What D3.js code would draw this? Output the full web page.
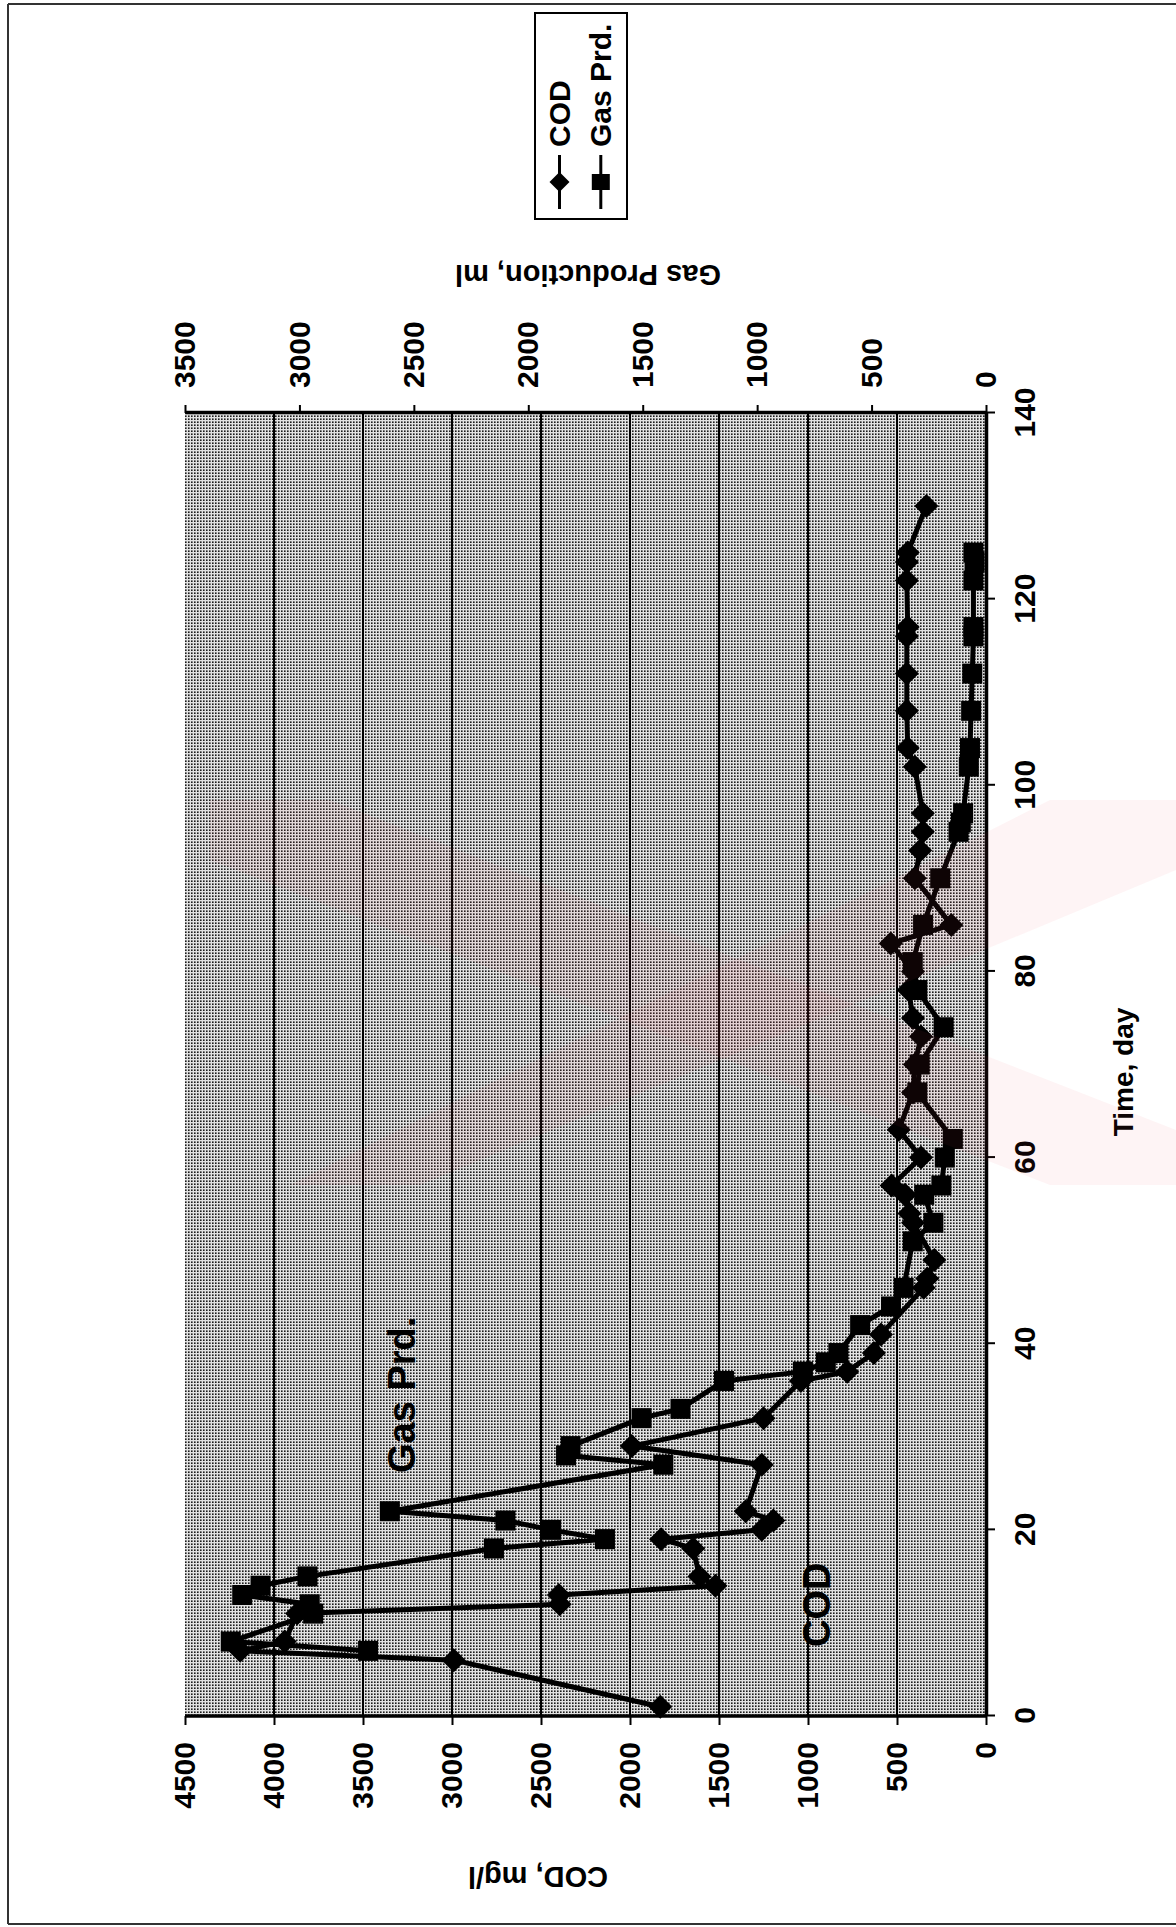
<!DOCTYPE html>
<html><head><meta charset="utf-8">
<script src="https://cdn.jsdelivr.net/npm/d3@7"></script>
<style>html,body{margin:0;padding:0;background:#fff;} svg{display:block;}</style>
</head><body>
<svg id="c" width="1176" height="1927"></svg>
<script>
// ---- data ----
const codDays   = [1,6,7,8,11,12,13,14,15,18,19,20,21,22,27,29,32,36,37,39,41,46,47,49,53,54,56,57,60,63,67,70,73,75,78,80,83,85,90,93,95,97,102,104,108,112,116,117,122,124,125,130];
const codValues = [1830,2990,4190,3940,3870,2395,2400,1520,1610,1645,1825,1260,1195,1350,1260,1990,1250,1040,780,630,590,350,330,290,410,430,455,530,365,490,410,400,365,410,435,410,535,195,400,370,355,355,400,440,445,445,445,440,445,445,440,335];
const gasDays   = [7,8,11,12,13,14,15,18,19,20,21,22,27,28,29,32,33,36,37,38,39,42,44,46,51,53,56,57,60,62,67,70,74,78,81,85,90,95,96,97,102,104,108,112,116,117,122,124,125];
const gasValues = [2700,3300,2940,2955,3250,3170,2965,2150,1665,1900,2100,2605,1410,1835,1815,1505,1335,1145,800,700,645,550,415,360,320,230,270,195,180,145,300,290,185,300,320,275,200,120,110,100,75,70,65,60,55,55,55,50,55];
const timeTicks = [0,20,40,60,80,100,120,140];
const codTicks  = [0,500,1000,1500,2000,2500,3000,3500,4000,4500];
const gasTicks  = [0,500,1000,1500,2000,2500,3000,3500];
const seriesNames = ["COD","Gas Prd."];

const FONT = "'Liberation Sans', Arial, sans-serif";
const W = 1303, H = 801;
const svg = d3.select('#c');

// pattern for halftone background
const defs = svg.append('defs');
const pat = defs.append('pattern').attr('id','dots').attr('patternUnits','userSpaceOnUse')
  .attr('width',3).attr('height',3);
pat.append('rect').attr('width',3).attr('height',3).attr('fill','#e2e2e2');
pat.append('rect').attr('width',1.6).attr('height',1.6).attr('fill','#1c1c1c');

// page frame
svg.append('line').attr('x1',8).attr('x2',8).attr('y1',4).attr('y2',1924).attr('stroke','#333').attr('stroke-width',2);
svg.append('line').attr('x1',8).attr('x2',1176).attr('y1',4).attr('y2',4).attr('stroke','#333').attr('stroke-width',2);
svg.append('line').attr('x1',8).attr('x2',1176).attr('y1',1924).attr('y2',1924).attr('stroke','#333').attr('stroke-width',2);

// chart drawn in normal orientation, then rotated
const g = svg.append('g').attr('transform','translate(185,1716) rotate(-90)');
const x  = d3.scaleLinear().domain([0,140]).range([0,W]);
const yC = d3.scaleLinear().domain([0,4500]).range([H,0]);
const yG = d3.scaleLinear().domain([0,3500]).range([H,0]);

g.append('rect').attr('x',0).attr('y',0).attr('width',W).attr('height',H).attr('fill','url(#dots)');

// faint pink watermark
const wm = svg.append('g').attr('fill','rgba(230,70,80,0.06)');
wm.append('polygon').attr('points','210,800 330,800 1176,1130 1176,1185 1050,1185 210,860');
wm.append('polygon').attr('points','1176,800 1176,870 420,1185 290,1185 1050,800');

// gridlines (COD)
g.append('g').selectAll('line').data(codTicks.filter(v=>v>0 && v<4500)).join('line')
  .attr('x1',0).attr('x2',W).attr('y1',d=>yC(d)).attr('y2',d=>yC(d))
  .attr('stroke','#000').attr('stroke-width',2);

function styleAxis(sel){
  sel.select('.domain').attr('stroke','#000').attr('stroke-width',3.5);
  sel.selectAll('.tick line').attr('stroke','#000').attr('stroke-width',2);
  sel.selectAll('.tick text').attr('fill','#000').style('font-family',FONT)
     .style('font-weight','bold').style('font-size','30px');
}
const axL = g.append('g').call(d3.axisLeft(yC).tickValues(codTicks).tickSize(9).tickSizeOuter(0).tickPadding(17).tickFormat(d3.format('d')));
styleAxis(axL); axL.select('.domain').remove();
const axR = g.append('g').attr('transform',`translate(${W},0)`).call(d3.axisRight(yG).tickValues(gasTicks).tickSize(8).tickSizeOuter(0).tickPadding(17).tickFormat(d3.format('d')));
styleAxis(axR);
const axB = g.append('g').attr('transform',`translate(0,${H})`).call(d3.axisBottom(x).tickValues(timeTicks).tickSize(9).tickSizeOuter(0).tickPadding(19));
styleAxis(axB);
g.append('line').attr('x1',0).attr('x2',0).attr('y1',0).attr('y2',H).attr('stroke','#000').attr('stroke-width',3.5);

// series
const cod = codDays.map((t,i)=>({t, v: codValues[i]}));
const gas = gasDays.map((t,i)=>({t, v: gasValues[i]}));
g.append('path').datum(cod).attr('fill','none').attr('stroke','#000').attr('stroke-width',5)
  .attr('stroke-linejoin','round').attr('d', d3.line().x(d=>x(d.t)).y(d=>yC(d.v)));
g.append('path').datum(gas).attr('fill','none').attr('stroke','#000').attr('stroke-width',5)
  .attr('stroke-linejoin','round').attr('d', d3.line().x(d=>x(d.t)).y(d=>yG(d.v)));
const diamond = r => `M0,${-r}L${r},0L0,${r}L${-r},0Z`;
g.append('g').selectAll('path').data(cod).join('path')
  .attr('transform',d=>`translate(${x(d.t)},${yC(d.v)})`).attr('d',diamond(12)).attr('fill','#000');
g.append('g').selectAll('rect').data(gas).join('rect')
  .attr('x',d=>x(d.t)-10).attr('y',d=>yG(d.v)-10).attr('width',20).attr('height',20).attr('fill','#000');

// in-plot labels
g.append('text').attr('x',243).attr('y',230).text('Gas Prd.')
  .style('font-family',FONT).style('font-weight','bold').style('font-size','38px');
g.append('text').attr('x',69).attr('y',645).text('COD')
  .style('font-family',FONT).style('font-weight','bold').style('font-size','38px');

// axis titles
g.append('text').attr('x',644).attr('y',948).attr('text-anchor','middle').text('Time, day')
  .style('font-family',FONT).style('font-weight','bold').style('font-size','28px');
g.append('text').attr('transform','translate(-161,353) rotate(-90)').attr('text-anchor','middle')
  .attr('dominant-baseline','central').text('COD, mg/l')
  .style('font-family',FONT).style('font-weight','bold').style('font-size','29px');
g.append('text').attr('transform','translate(1441,403) rotate(-90)').attr('text-anchor','middle')
  .attr('dominant-baseline','central').text('Gas Production, ml')
  .style('font-family',FONT).style('font-weight','bold').style('font-size','29px');

// legend
const lg = g.append('g');
lg.append('rect').attr('x',1497).attr('y',350).attr('width',206).attr('height',92)
  .attr('fill','#fff').attr('stroke','#000').attr('stroke-width',2);
const ly = [374.5, 415.8];
seriesNames.forEach((name,i)=>{
  lg.append('line').attr('x1',1507).attr('x2',1561).attr('y1',ly[i]).attr('y2',ly[i]).attr('stroke','#000').attr('stroke-width',3);
  if(i===0) lg.append('path').attr('transform',`translate(1534,${ly[i]})`).attr('d',diamond(10)).attr('fill','#000');
  else lg.append('rect').attr('x',1534-8).attr('y',ly[i]-9).attr('width',16).attr('height',18).attr('fill','#000');
  lg.append('text').attr('x',1569).attr('y',ly[i]).attr('dominant-baseline','central').text(name)
    .style('font-family',FONT).style('font-weight','bold').style('font-size','30px');
});
</script>
</body></html>
